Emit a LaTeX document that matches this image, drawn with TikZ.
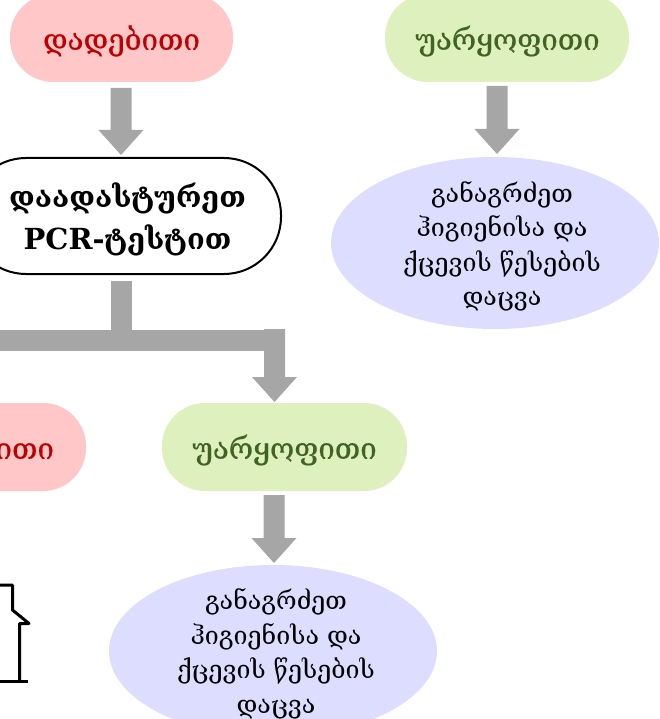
\documentclass[tikz,border=0pt]{standalone}
\usepackage{fontspec}
\setmainfont{DejaVu Serif}
\newfontfamily\pillfont[FakeBold=0.5]{DejaVu Serif}
\usetikzlibrary{shapes.geometric}
\definecolor{pinkf}{HTML}{FFC7C7}
\definecolor{redt}{HTML}{C00000}
\definecolor{greenf}{HTML}{DEF0BE}
\definecolor{greent}{HTML}{3F6322}
\definecolor{bluef}{HTML}{DCDDFF}
\definecolor{arrowg}{HTML}{A6A6A6}
\tikzset{x=1pt,y=-1pt,
 pill/.style={rectangle,rounded corners=43pt,inner sep=0pt,minimum height=88pt},
 pilltext/.style={inner sep=0pt,font=\pillfont\fontsize{29.5}{34}\selectfont},
 ell/.style={ellipse,fill=bluef,inner sep=0pt,minimum width=328pt,minimum height=172pt},
 elltext/.style={align=center,inner sep=0pt,font=\fontsize{25}{34.5}\selectfont}}
\newcommand{\downarrowshape}[3]{% x, ytop, ytip
 \fill[arrowg] (#1-10.5,#2) -- (#1+10.5,#2) -- (#1+10.5,#3-25) -- (#1+22.5,#3-25) -- (#1,#3) -- (#1-22.5,#3-25) -- (#1-10.5,#3-25) -- cycle;}
\begin{document}
\begin{tikzpicture}
\useasboundingbox (0,0) rectangle (659,719);
\begin{scope}
\clip (0,0) rectangle (659,719);
\node[pill,fill=pinkf,minimum width=223pt] (p1) at (121.5,38) {};
\node[pilltext,text=redt] (p1t) at (121.5,41) {დადებითი};
\node[pill,fill=greenf,minimum width=244pt] (g1) at (507,38) {};
\node[pilltext,text=greent] (g1t) at (507.5,41) {უარყოფითი};
\node[pill,draw=black,line width=2pt,fill=white,minimum width=312pt,minimum height=116pt,rounded corners=57pt] (c) at (125,216) {};
\node[align=center,inner sep=0pt,font=\fontsize{29}{42}\bfseries\selectfont] (ct) at (127.5,219) {დაადასტურეთ\\PCR-ტესტით};
\node[ell] (e1) at (495,243) {};
\node[elltext] (e1t) at (502,246.5) {განაგრძეთ\\ ჰიგიენისა და\\ქცევის წესების\\დაცვა};
\node[pill,fill=pinkf,minimum width=223pt] (p2) at (-25.5,447) {};
\node[pilltext,text=redt] (p2t) at (-24.5,450) {დადებითი};
\node[pill,fill=greenf,minimum width=245pt] (g2) at (284.5,447) {};
\node[pilltext,text=greent] (g2t) at (284.5,450) {უარყოფითი};
\node[ell] (e2) at (273,651) {};
\node[elltext] (e2t) at (276,654) {განაგრძეთ\\ჰიგიენისა და\\ქცევის წესების\\დაცვა};
\downarrowshape{121}{88}{155}
\downarrowshape{497}{86}{154}
\downarrowshape{274}{495}{563}
\fill[arrowg] (111,281) rectangle (132,330);
\fill[arrowg] (-5,330) rectangle (285,351);
\downarrowshape{274.5}{329}{402}
\draw[line width=3pt,line join=round] (-5,585) -- (12.5,585) -- (12.5,610) -- (29,623.5) -- (19.5,623.5) -- (19.5,681.5);
\draw[line width=3pt] (-5,681.5) -- (28,681.5);
\end{scope}
\end{tikzpicture}
\end{document}
